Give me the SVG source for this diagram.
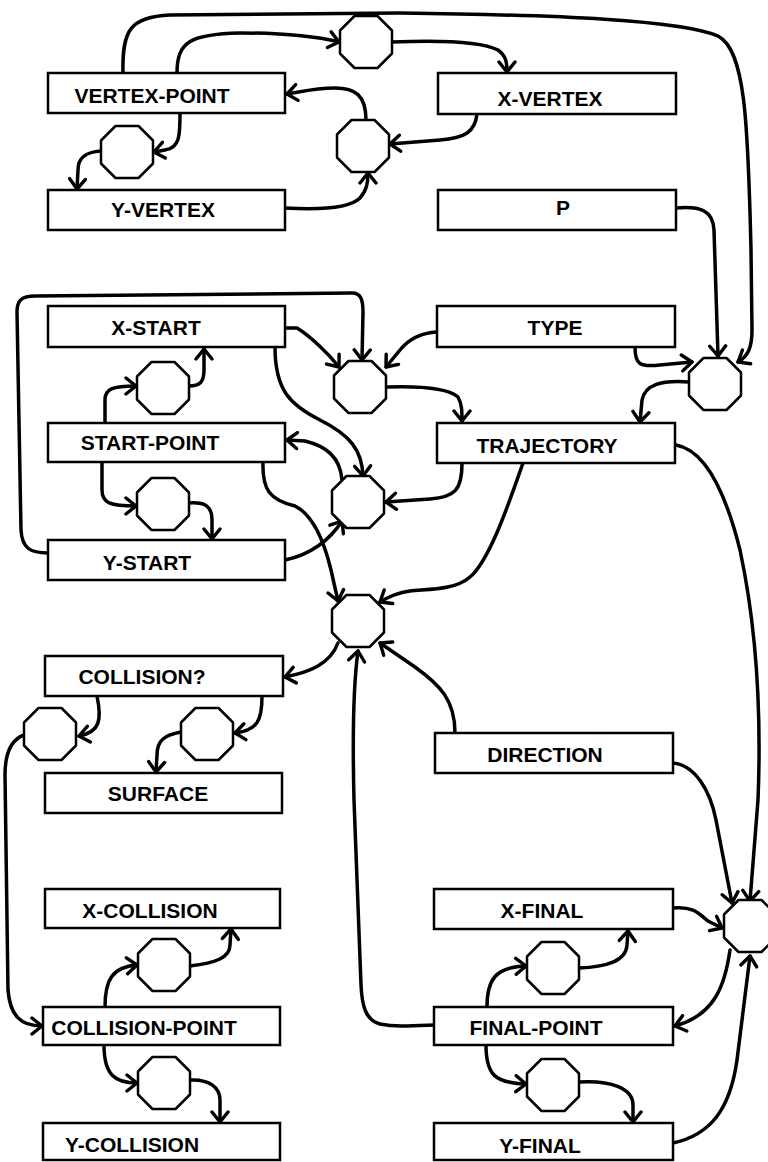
<svg xmlns="http://www.w3.org/2000/svg" xmlns:xlink="http://www.w3.org/1999/xlink" width="768" height="1162" viewBox="0 0 768 1162">
<style>
.box{fill:#fff;stroke:#000;stroke-width:2.5}
.lbl{font-family:"Liberation Sans",Arial,sans-serif;font-weight:bold;font-size:21px;text-anchor:middle;fill:#000}
.oct{fill:#fff;stroke:#000;stroke-width:2.5;stroke-linejoin:round}
.c{fill:none;stroke:#000;stroke-width:3.5;stroke-linecap:round;marker-end:url(#ah)}
</style>
<defs>
<marker id="ah" markerWidth="20" markerHeight="20" refX="14" refY="10" orient="auto" markerUnits="userSpaceOnUse">
<path d="M4,2 L14,10 L4,18" fill="none" stroke="#000" stroke-width="3.4" stroke-linecap="round" stroke-linejoin="round"/>
</marker>
<polygon id="o" points="-11.5,-26 11.5,-26 26,-11.5 26,11.5 11.5,26 -11.5,26 -26,11.5 -26,-11.5"/>
</defs>
<rect width="768" height="1162" fill="#fff"/>
<g id="connectors">
<path class="c" d="M123 73 C122 30,130 17,170 15 L400 13 C560 15,680 20,718 36 C745 50,748 120,751 250 L752 330 C752 348,748 356,738 362"/>
<path class="c" d="M177 73 C177 42,190 34,240 33 C290 33,318 37,339 42"/>
<path class="c" d="M392 42 C440 40,482 42,498 50 C506 56,507 62,507 72"/>
<path class="c" d="M477 114 C475 132,465 138,440 140 L390 144"/>
<path class="c" d="M366 120 C366 95,355 88,335 88 C315 88,300 92,287 94"/>
<path class="c" d="M285 208 C320 210,350 208,360 198 C367 190,368 182,368 173"/>
<path class="c" d="M180 113 C180 135,180 148,165 150 L154 152"/>
<path class="c" d="M101 151 C85 152,78 158,78 170 L77 189"/>
<path class="c" d="M676 208 C700 206,713 210,714 230 L718 356"/>
<path class="c" d="M635 347 C635 365,640 367,660 365 L692 362"/>
<path class="c" d="M689 382 C660 380,645 385,642 400 L640 422"/>
<path class="c" d="M437 332 C420 333,408 340,400 350 L386 367"/>
<path class="c" d="M387 387 C420 386,448 388,458 397 C462 404,462 412,462 421"/>
<path class="c" d="M285 328 L297 328 C310 336,328 353,339 367"/>
<path class="c" d="M48 553 C30 553,22 548,21 530 L17 312 C17 300,22 296,35 296 L352 293 C361 293,363 300,363 312 L362 360"/>
<path class="c" d="M275 347 C275 390,290 405,320 420 C350 435,362 450,363 476"/>
<path class="c" d="M462 463 C462 490,455 497,430 499 L386 502"/>
<path class="c" d="M285 560 C310 555,330 540,342 521"/>
<path class="c" d="M342 480 C340 456,325 446,305 441 L287 440"/>
<path class="c" d="M105 423 L105 400 C105 389,112 386,136 386"/>
<path class="c" d="M189 386 C200 386,204 382,204 370 L204 349"/>
<path class="c" d="M102 462 L102 490 C102 503,110 506,136 506"/>
<path class="c" d="M189 503 C205 502,212 506,212 520 L212 539"/>
<path class="c" d="M263 462 C262 490,270 500,295 506 C315 516,325 545,331 570 L338 601"/>
<path class="c" d="M523 463 C510 500,490 560,470 577 C455 590,430 589,410 591 C396 593,388 597,380 602"/>
<path class="c" d="M455 733 C455 700,440 685,415 667 L380 643"/>
<path class="c" d="M434 1025 C410 1026,395 1027,380 1024 C365 1020,362 1005,361 985 L354 800 C352 720,354 680,358 651"/>
<path class="c" d="M338 643 C330 664,310 672,285 677"/>
<path class="c" d="M97 696 C102 720,100 732,79 736"/>
<path class="c" d="M24 735 C10 740,5 755,5 775 L8 990 C10 1015,20 1026,42 1026"/>
<path class="c" d="M262 696 C262 720,258 730,235 733"/>
<path class="c" d="M181 732 C165 735,157 740,157 755 L156 772"/>
<path class="c" d="M105 1007 C105 980,112 967,137 965"/>
<path class="c" d="M190 966 C215 963,230 958,230 945 L231 929"/>
<path class="c" d="M104 1045 C104 1075,115 1083,137 1083"/>
<path class="c" d="M190 1080 C210 1079,220 1088,220 1100 L220 1122"/>
<path class="c" d="M487 1007 C487 980,495 967,526 966"/>
<path class="c" d="M579 968 C605 967,626 962,627 945 L628 931"/>
<path class="c" d="M486 1045 C486 1075,495 1083,526 1084"/>
<path class="c" d="M579 1082 C610 1080,633 1088,633 1105 L633 1122"/>
<path class="c" d="M673 1143 C710 1135,730 1110,737 1060 L750 956"/>
<path class="c" d="M730 950 C725 985,715 1015,675 1026"/>
<path class="c" d="M673 908 C695 906,700 915,708 921 L722 928"/>
<path class="c" d="M673 763 C695 765,710 790,716 820 L732 903"/>
<path class="c" d="M676 445 C705 450,725 490,740 550 C755 620,762 700,758 800 L750 901"/>
</g>
<g id="vertex-point"><rect class="box" x="48" y="73" width="237" height="40"/><text class="lbl" x="152" y="103">VERTEX-POINT</text></g>
<g id="x-vertex"><rect class="box" x="438" y="73" width="238" height="41"/><text class="lbl" x="550" y="106">X-VERTEX</text></g>
<g id="y-vertex"><rect class="box" x="48" y="190" width="237" height="40"/><text class="lbl" x="163" y="217">Y-VERTEX</text></g>
<g id="p"><rect class="box" x="438" y="190" width="238" height="40"/><text class="lbl" x="563" y="215">P</text></g>
<g id="x-start"><rect class="box" x="48" y="306" width="237" height="41"/><text class="lbl" x="156" y="335">X-START</text></g>
<g id="type"><rect class="box" x="437" y="306" width="238" height="41"/><text class="lbl" x="555" y="335">TYPE</text></g>
<g id="start-point"><rect class="box" x="48" y="423" width="237" height="39"/><text class="lbl" x="150" y="450">START-POINT</text></g>
<g id="trajectory"><rect class="box" x="437" y="423" width="238" height="40"/><text class="lbl" x="547" y="453">TRAJECTORY</text></g>
<g id="y-start"><rect class="box" x="48" y="540" width="237" height="40"/><text class="lbl" x="147" y="570">Y-START</text></g>
<g id="collision-q"><rect class="box" x="45" y="656" width="238" height="40"/><text class="lbl" x="142" y="684">COLLISION?</text></g>
<g id="surface"><rect class="box" x="45" y="773" width="237" height="40"/><text class="lbl" x="158" y="801">SURFACE</text></g>
<g id="direction"><rect class="box" x="435" y="733" width="238" height="40"/><text class="lbl" x="545" y="762">DIRECTION</text></g>
<g id="x-collision"><rect class="box" x="45" y="889" width="235" height="39"/><text class="lbl" x="150" y="918">X-COLLISION</text></g>
<g id="x-final"><rect class="box" x="434" y="889" width="239" height="40"/><text class="lbl" x="542" y="918">X-FINAL</text></g>
<g id="collision-point"><rect class="box" x="43" y="1007" width="237" height="38"/><text class="lbl" x="144" y="1035">COLLISION-POINT</text></g>
<g id="final-point"><rect class="box" x="434" y="1007" width="239" height="38"/><text class="lbl" x="536" y="1035">FINAL-POINT</text></g>
<g id="y-collision"><rect class="box" x="43" y="1123" width="237" height="37"/><text class="lbl" x="132" y="1152">Y-COLLISION</text></g>
<g id="y-final"><rect class="box" x="434" y="1123" width="239" height="37"/><text class="lbl" x="540" y="1153">Y-FINAL</text></g>
<g id="t1"><use xlink:href="#o" class="oct" x="366" y="42"/></g>
<g id="t2"><use xlink:href="#o" class="oct" x="363" y="146"/></g>
<g id="t3"><use xlink:href="#o" class="oct" x="127" y="152"/></g>
<g id="t-e"><use xlink:href="#o" class="oct" x="715" y="384"/></g>
<g id="t-c"><use xlink:href="#o" class="oct" x="360" y="387"/></g>
<g id="t-a"><use xlink:href="#o" class="oct" x="163" y="388"/></g>
<g id="t-d"><use xlink:href="#o" class="oct" x="358" y="502"/></g>
<g id="t-b"><use xlink:href="#o" class="oct" x="163" y="504"/></g>
<g id="t-f"><use xlink:href="#o" class="oct" x="358" y="621"/></g>
<g id="t-g"><use xlink:href="#o" class="oct" x="50" y="734"/></g>
<g id="t-h"><use xlink:href="#o" class="oct" x="207" y="734"/></g>
<g id="t-i"><use xlink:href="#o" class="oct" x="164" y="965"/></g>
<g id="t-j"><use xlink:href="#o" class="oct" x="164" y="1083"/></g>
<g id="t-k"><use xlink:href="#o" class="oct" x="553" y="968"/></g>
<g id="t-l"><use xlink:href="#o" class="oct" x="553" y="1085"/></g>
<g id="t-m"><use xlink:href="#o" class="oct" x="750" y="926"/></g>
</svg>
